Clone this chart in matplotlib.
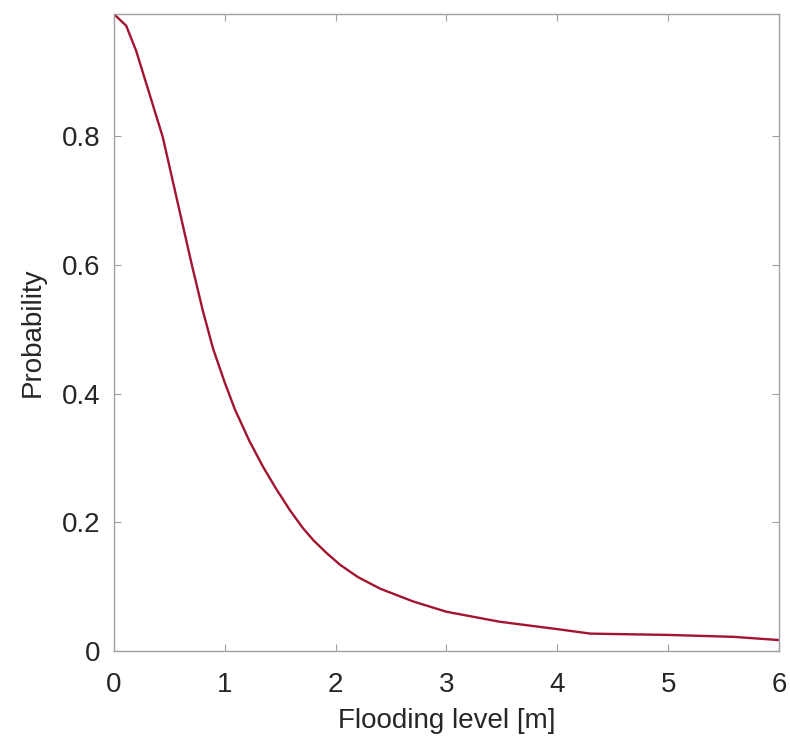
import matplotlib
matplotlib.use("Agg")
import matplotlib.pyplot as plt

# values
flood_level = [0.0, 0.11, 0.20, 0.32, 0.44, 0.56, 0.70, 0.80, 0.894, 1.0, 1.09, 1.22,
               1.346, 1.46, 1.587, 1.70, 1.80, 1.92, 2.04, 2.20, 2.40, 2.70, 3.00,
               3.48, 4.00, 4.30, 5.00, 5.59, 6.00]
probability = [0.99, 0.972, 0.933, 0.866, 0.799, 0.708, 0.602, 0.530, 0.470, 0.417, 0.376, 0.327,
               0.286, 0.253, 0.219, 0.192, 0.172, 0.152, 0.134, 0.115, 0.097, 0.077, 0.061,
               0.0455, 0.034, 0.027, 0.025, 0.022, 0.017]

x_ticks = [0, 1, 2, 3, 4, 5, 6]
y_ticks = [0, 0.2, 0.4, 0.6, 0.8]
y_tick_labels = ["0", "0.2", "0.4", "0.6", "0.8"]

plt.rcParams["font.family"] = ["Liberation Sans", "DejaVu Sans"]

fig = plt.figure(figsize=(7.9, 7.44), dpi=100)
ax = fig.add_axes([0.1443, 0.125, 0.8417, 0.856])

ax.plot(flood_level, probability, color="#A2142F", linewidth=1.7)

ax.set_xlim(0, 6)
ax.set_ylim(0, 0.99)
ax.set_xticks(x_ticks)
ax.set_yticks(y_ticks)
ax.set_yticklabels(y_tick_labels)

axis_gray = "#a0a0a0"
text_gray = "#262626"
for side in ax.spines.values():
    side.set_color(axis_gray)
    side.set_linewidth(1.0)
ax.tick_params(direction="in", length=5, width=0.8, color=axis_gray,
               labelsize=20, labelcolor=text_gray, top=True, right=True)
ax.tick_params(axis="x", pad=15)
ax.tick_params(axis="y", pad=10)

ax.set_xlabel("Flooding level [m]", fontsize=20, color=text_gray, labelpad=7)
ax.set_ylabel("Probability", fontsize=20, color=text_gray, labelpad=11)

fig.savefig("out.png", dpi=100)
